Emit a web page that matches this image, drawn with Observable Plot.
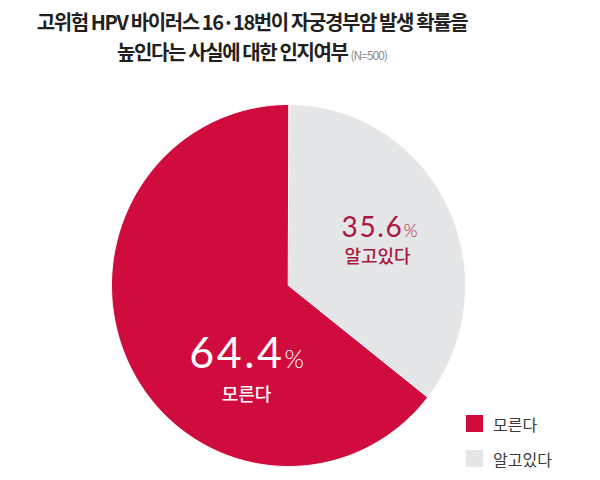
<!DOCTYPE html>
<html>
<head>
<meta charset="utf-8">
<script src="https://cdn.jsdelivr.net/npm/d3@7"></script>
<script src="https://cdn.jsdelivr.net/npm/@observablehq/plot@0.6"></script>
<style>
  html, body { margin: 0; padding: 0; background: #fff; }
  #wrap { position: relative; width: 600px; height: 480px; overflow: hidden; font-family: "Noto Sans CJK KR", sans-serif; }
  #title { position: absolute; left: 0; top: 0; width: 504px; text-align: center; color: #231f20;
           font-size: 20px; font-weight: 700; letter-spacing: -1.4px; line-height: 30px; padding-top: 7px; }
  #title .n { font-size: 12px; color: #8a8a8a; font-weight: 400; letter-spacing: -1px; }
  #chart { position: absolute; left: 0; top: 80px; }
  #legend { position: absolute; left: 466px; top: 415px; font-size: 16px; color: #3a3a3a; }
  #legend .item { display: flex; align-items: center; height: 17px; margin-bottom: 18px; }
  #legend .sw { width: 17px; height: 17px; margin-right: 10px; }
</style>
</head>
<body>
<div id="wrap">
  <div id="title">고위험 HPV 바이러스 16·18번이 자궁경부암 발생 확률을<br>높인다는 사실에 대한 인지여부 <span class="n">(N=500)</span></div>
  <div id="chart"></div>
  <div id="legend"></div>
</div>
<script>
// ---- data ----
const categories = ["알고있다", "모른다"];
const values = [35.6, 64.4];
const legendOrder = ["모른다", "알고있다"];
const colors = ["#e5e6e7", "#d00c3e"];

// ---- styling for labels (polar placement: angle in degrees clockwise from top, radius fraction) ----
const labelStyle = {
  "알고있다": {angle: 67.4, r: 0.704, numSize: 28, pctSize: 18, subSize: 18, color: "#a8173f", subDx: -26, subDy: 26, pctDx: 0},
  "모른다":   {angle: 182.8, r: 0.459, numSize: 43, pctSize: 25, subSize: 18, color: "#ffffff", subDx: -38, subDy: 33, pctDx: 0}
};

const total = d3.sum(values);
const colorOf = Object.fromEntries(categories.map((c, i) => [c, colors[i]]));

// build slice polygons from the values
let acc = 0;
const slices = categories.map((c, i) => {
  const a0 = acc / total * 2 * Math.PI;
  acc += values[i];
  const a1 = acc / total * 2 * Math.PI;
  const pts = [{x: 0, y: 0}];
  const n = Math.max(2, Math.ceil((a1 - a0) / (Math.PI / 360)));
  for (let k = 0; k <= n; k++) {
    const a = a0 + (a1 - a0) * k / n;
    pts.push({x: Math.sin(a), y: Math.cos(a)});
  }
  return {category: c, value: values[i], pts};
});

const labels = categories.map((c, i) => {
  const s = labelStyle[c];
  const a = s.angle * Math.PI / 180;
  return {category: c, value: values[i], x: s.r * Math.sin(a), y: s.r * Math.cos(a), ...s};
});

const marks = [];
for (const s of slices) {
  marks.push(Plot.line(s.pts, {x: "x", y: "y", curve: "linear-closed", fill: colorOf[s.category], stroke: "#ffffff", strokeWidth: 1}));
}
for (const l of labels) {
  marks.push(Plot.text([l], {x: "x", y: "y", text: d => d.value.toFixed(1), textAnchor: "end", lineAnchor: "bottom",
    fontSize: l.numSize, fontWeight: 400, fontFamily: "Lato, 'Open Sans', sans-serif", fill: l.color}));
  marks.push(Plot.text([l], {x: "x", y: "y", text: d => "%", textAnchor: "start", lineAnchor: "bottom", dx: l.pctDx,
    fontSize: l.pctSize, fontWeight: 300, fontFamily: "Lato, 'Open Sans', sans-serif", fill: l.color}));
  marks.push(Plot.text([l], {x: "x", y: "y", text: "category", textAnchor: "middle", lineAnchor: "bottom",
    dx: l.subDx, dy: l.subDy, fontSize: l.subSize, fontWeight: 500, fontFamily: "'Noto Sans CJK KR', sans-serif", fill: l.color}));
}

const plot = Plot.plot({
  width: 600,
  height: 400,
  marginLeft: 111,
  marginRight: 135,
  marginTop: 24,
  marginBottom: 14,
  x: {domain: [-1, 1], axis: null},
  y: {domain: [-1, 1], axis: null},
  style: {background: "transparent", overflow: "visible"},
  marks
});
// widen the number labels' tracking slightly
d3.select(plot).selectAll("text").filter(function() { return /^\d+\.\d$/.test(this.textContent); })
  .style("letter-spacing", "0.06em");
document.getElementById("chart").appendChild(plot);

// legend
const leg = document.getElementById("legend");
for (const c of legendOrder) {
  const item = document.createElement("div");
  item.className = "item";
  const sw = document.createElement("div");
  sw.className = "sw";
  sw.style.background = colorOf[c];
  const t = document.createElement("span");
  t.textContent = c;
  item.appendChild(sw);
  item.appendChild(t);
  leg.appendChild(item);
}
</script>
</body>
</html>
